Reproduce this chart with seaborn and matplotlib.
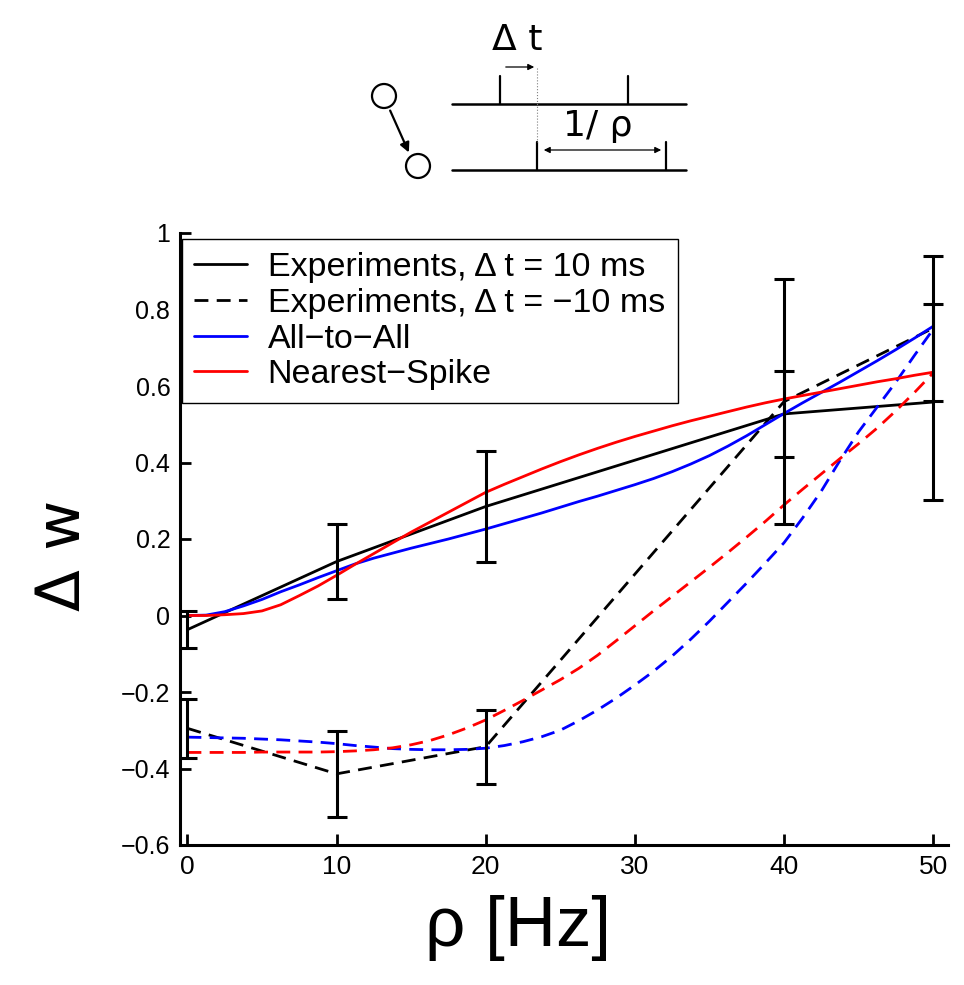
import matplotlib.pyplot as plt
from matplotlib.patches import Circle
import numpy as np
import pandas as pd
import seaborn as sns

# experiment points (mean, error)
rho_exp = [0, 10, 20, 40, 50]
exp_pos_mean = [-0.037, 0.141, 0.285, 0.527, 0.558]
exp_pos_err = [0.048, 0.097, 0.146, 0.113, 0.256]
exp_neg_mean = [-0.295, -0.414, -0.343, 0.559, 0.751]
exp_neg_err = [0.078, 0.113, 0.097, 0.321, 0.19]

# model curves, every 1.25 Hz
rho_model = [0, 1.25, 2.5, 3.75, 5, 6.25, 7.5, 8.75, 10, 11.25, 12.5, 13.75, 15, 16.25,
             17.5, 18.75, 20, 21.25, 22.5, 23.75, 25, 26.25, 27.5, 28.75, 30, 31.25,
             32.5, 33.75, 35, 36.25, 37.5, 38.75, 40, 41.25, 42.5, 43.75, 45, 46.25,
             47.5, 48.75, 50]
all_pos = [0.0, 0.001, 0.01, 0.025, 0.042, 0.062, 0.08, 0.099, 0.117, 0.135, 0.15, 0.163,
           0.176, 0.188, 0.2, 0.213, 0.226, 0.24, 0.254, 0.268, 0.283, 0.298, 0.312, 0.327,
           0.342, 0.358, 0.376, 0.396, 0.418, 0.443, 0.47, 0.499, 0.528, 0.556, 0.583, 0.61,
           0.638, 0.666, 0.695, 0.725, 0.756]
all_neg = [-0.318, -0.319, -0.32, -0.321, -0.323, -0.325, -0.328, -0.331, -0.335, -0.34,
           -0.344, -0.348, -0.35, -0.351, -0.351, -0.35, -0.347, -0.34, -0.33, -0.317, -0.30,
           -0.275, -0.247, -0.216, -0.182, -0.146, -0.106, -0.062, -0.015, 0.035, 0.085,
           0.137, 0.19, 0.255, 0.325, 0.405, 0.48, 0.545, 0.61, 0.68, 0.748]
near_pos = [0.0, 0.0, 0.002, 0.005, 0.012, 0.028, 0.052, 0.077, 0.105, 0.134, 0.162, 0.19,
            0.218, 0.244, 0.27, 0.296, 0.322, 0.343, 0.363, 0.383, 0.402, 0.42, 0.437, 0.453,
            0.468, 0.482, 0.496, 0.509, 0.521, 0.533, 0.545, 0.556, 0.566, 0.575, 0.584,
            0.593, 0.602, 0.611, 0.619, 0.628, 0.636]
near_neg = [-0.358, -0.358, -0.358, -0.358, -0.357, -0.357, -0.357, -0.357, -0.356, -0.354,
            -0.351, -0.346, -0.338, -0.327, -0.312, -0.294, -0.273, -0.248, -0.222, -0.195,
            -0.168, -0.138, -0.104, -0.066, -0.027, 0.012, 0.05, 0.088, 0.126, 0.165, 0.205,
            0.246, 0.289, 0.33, 0.37, 0.41, 0.449, 0.49, 0.535, 0.583, 0.634]

labels = ['Experiments, Δ t = 10 ms', 'Experiments, Δ t = −10 ms',
          'All−to−All', 'Nearest−Spike']
yticks = [-0.6, -0.4, -0.2, 0, 0.2, 0.4, 0.6, 0.8, 1]
ytick_labels = ['−0.6', '−0.4', '−0.2', '0', '0.2', '0.4', '0.6', '0.8', '1']
xticks = [0, 10, 20, 30, 40, 50]

sns.set_style('white')
plt.rcParams['font.family'] = ['Liberation Sans', 'DejaVu Sans']
for key in ['text.color', 'axes.labelcolor', 'xtick.color', 'ytick.color']:
    plt.rcParams[key] = 'black'

fig = plt.figure(figsize=(9.64, 9.85), dpi=100)
ax = fig.add_axes([180 / 964, 1 - 845 / 985, 768 / 964, 612 / 985])

lw = 2.0
dash = (0, (5, 3))
sns.lineplot(x=rho_exp, y=exp_pos_mean, ax=ax, color='k', linewidth=lw)
sns.lineplot(x=rho_exp, y=exp_neg_mean, ax=ax, color='k', linewidth=lw, linestyle=dash)
sns.lineplot(x=rho_model, y=all_pos, ax=ax, color='b', linewidth=lw)
sns.lineplot(x=rho_model, y=all_neg, ax=ax, color='b', linewidth=lw, linestyle=dash)
sns.lineplot(x=rho_model, y=near_pos, ax=ax, color='r', linewidth=lw)
sns.lineplot(x=rho_model, y=near_neg, ax=ax, color='r', linewidth=lw, linestyle=dash)

ax.errorbar(rho_exp, exp_pos_mean, yerr=exp_pos_err, fmt='none', ecolor='k',
            elinewidth=2.2, capsize=7, capthick=2.2)
ax.errorbar(rho_exp, exp_neg_mean, yerr=exp_neg_err, fmt='none', ecolor='k',
            elinewidth=2.2, capsize=7, capthick=2.2)

ax.set_xlim(-0.5, 51)
ax.set_ylim(-0.6, 1)
ax.set_yticks(yticks)
ax.set_yticklabels(ytick_labels, fontsize=18)
ax.set_xticks(xticks)
ax.set_xticklabels([str(t) for t in xticks], fontsize=19)
ax.tick_params(direction='in', length=8, width=2, pad=7, colors='k',
               bottom=True, left=True, top=False, right=False)
for side in ['top', 'right']:
    ax.spines[side].set_visible(False)
for side in ['left', 'bottom']:
    ax.spines[side].set_linewidth(2.2)
    ax.spines[side].set_color('k')

ax.set_xlabel('ρ [Hz]', fontsize=51)
ax.xaxis.set_label_coords(0.44, -0.082)
ax.set_ylabel('Δ w', fontsize=44, family='DejaVu Sans')
ax.yaxis.set_label_coords(-0.113, 0.474)

handles = [
    plt.Line2D([], [], color='k', lw=lw),
    plt.Line2D([], [], color='k', lw=lw, linestyle=dash),
    plt.Line2D([], [], color='b', lw=lw),
    plt.Line2D([], [], color='r', lw=lw),
]
leg = ax.legend(handles, labels, loc='upper left', bbox_to_anchor=(0.002, 0.99),
                borderaxespad=0, fontsize=24.5, frameon=True, fancybox=False,
                edgecolor='k', framealpha=1, handlelength=1.55, handletextpad=0.6,
                labelspacing=0.14, borderpad=0.38)
leg.get_frame().set_linewidth(1.0)

# schematic of spike pairing, drawn in figure pixels
dg = fig.add_axes([0, 0, 1, 1], zorder=-1)
dg.set_xlim(0, 964)
dg.set_ylim(985, 0)
dg.axis('off')
dg.add_patch(Circle((384, 96), 12, fill=False, lw=1.6, ec='k'))
dg.add_patch(Circle((418, 166), 12, fill=False, lw=1.6, ec='k'))
dg.annotate('', xy=(410, 155), xytext=(389, 108),
            arrowprops=dict(arrowstyle='-|>', color='k', lw=1.6, mutation_scale=14))
dg.plot([452, 686], [104, 104], color='k', lw=1.8)
dg.plot([452, 686], [170, 170], color='k', lw=1.8)
for xs, y0, y1 in [(500, 76, 104), (628, 76, 104), (537, 142, 170), (666, 142, 170)]:
    dg.plot([xs, xs], [y0, y1], color='k', lw=1.6)
dg.plot([537, 537], [68, 142], color='gray', lw=0.8, linestyle=':')
dg.annotate('', xy=(537, 67), xytext=(503, 67),
            arrowprops=dict(arrowstyle='-|>', color='k', lw=0.9, mutation_scale=9))
dg.annotate('', xy=(541, 150), xytext=(664, 150),
            arrowprops=dict(arrowstyle='<|-|>', color='k', lw=0.9, mutation_scale=9))
dg.text(517, 40, 'Δ t', fontsize=26, family='DejaVu Sans', ha='center', va='center')
dg.text(598, 126, '1/ ρ', fontsize=26, family='DejaVu Sans', ha='center', va='center')

plt.savefig('out.png', dpi=100)
plt.close()
